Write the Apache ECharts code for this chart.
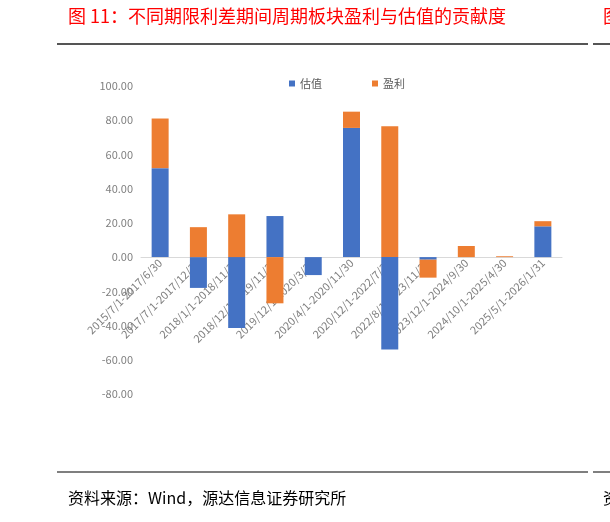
<!DOCTYPE html><html><head><meta charset="utf-8"><script src="https://cdn.jsdelivr.net/npm/echarts@6/dist/echarts.min.js"></script>
<style>body{margin:0;background:#fff}#c{width:610px;height:522px}</style></head><body><div id="c"></div><script>
const categories=['2015/7/1-2017/6/30','2017/7/1-2017/12/31','2018/1/1-2018/11/30','2018/12/1-2019/11/30','2019/12/1-2020/3/31','2020/4/1-2020/11/30','2020/12/1-2022/7/31','2022/8/1-2023/11/30','2023/12/1-2024/9/30','2024/10/1-2025/4/30','2025/5/1-2026/1/31'];
const valuation=[52,-18,-41.5,24,-10.5,75.5,-54,-1.5,0,0,18];
const earnings=[29,17.5,25,-27,0,9.5,76.5,-10.5,6.5,0.5,3];
const chart=echarts.init(document.getElementById('c'));
const F='"Noto Sans CJK SC","Noto Sans",sans-serif';
chart.setOption({
animation:false,
graphic:[
{type:'text',left:68,top:7,style:{text:'图 11：不同期限利差期间周期板块盈利与估值的贡献度',fill:'#ff0000',font:'18px '+F}},
{type:'text',left:603,top:7,style:{text:'图',fill:'#ff0000',font:'18px '+F}},
{type:'line',shape:{x1:57,y1:44,x2:588,y2:44},style:{stroke:'#555',lineWidth:2}},
{type:'line',shape:{x1:593,y1:44,x2:610,y2:44},style:{stroke:'#555',lineWidth:2}},
{type:'line',shape:{x1:57,y1:472,x2:588,y2:472},style:{stroke:'#555',lineWidth:1.5}},
{type:'line',shape:{x1:593,y1:472,x2:610,y2:472},style:{stroke:'#555',lineWidth:1.5}},
{type:'text',left:68,top:490,style:{text:'资料来源：Wind，源达信息证券研究所',fill:'#000',font:'16px '+F}},
{type:'text',left:603,top:490,style:{text:'资',fill:'#000',font:'16px '+F}}
],
legend:{top:73,left:284,itemWidth:6,itemHeight:6,itemGap:50,icon:'rect',textStyle:{color:'#595959',fontSize:11,fontFamily:F},data:['估值','盈利']},
grid:{left:141,right:48,top:86,height:308,containLabel:false},
xAxis:{type:'category',data:categories,offset:-137,axisLine:{lineStyle:{color:'#d9d9d9'},onZero:false},axisTick:{show:false},
 axisLabel:{rotate:45,interval:0,color:'#7f7f7f',fontSize:11,fontFamily:F,margin:4}},
yAxis:{type:'value',min:-80,max:100,interval:20,splitLine:{show:false},axisLine:{show:false},axisTick:{show:false},
 axisLabel:{formatter:v=>v.toFixed(2),color:'#7f7f7f',fontSize:11,fontFamily:F}},
series:[
{name:'估值',type:'bar',stack:'a',data:valuation,barWidth:17,itemStyle:{color:'#4472c4'},z:1},
{name:'盈利',type:'bar',stack:'a',data:earnings,barWidth:17,itemStyle:{color:'#ed7d31'},z:1}
]});
</script></body></html>
